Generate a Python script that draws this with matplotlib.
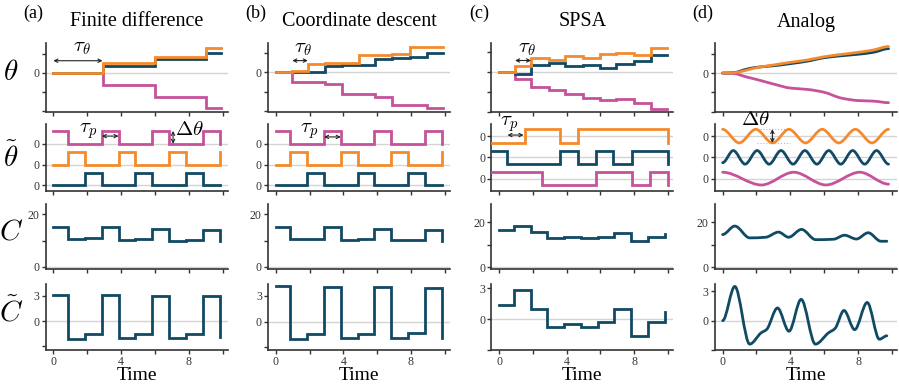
import numpy as np
import matplotlib
matplotlib.use("Agg")
import matplotlib.pyplot as plt
from matplotlib.path import Path
from matplotlib.patches import PathPatch

plt.rcParams['font.family'] = ['Liberation Serif', 'DejaVu Serif']
plt.rcParams['mathtext.fontset'] = 'cm'

ORANGE = '#f48a2c'
NAVY = '#104a64'
PINK = '#c5529b'
GRID = '#d4d4d4'
INK = '#333333'
LW = 2.0

# ---------------- data ----------------
titles = ['Finite difference', 'Coordinate descent', 'SPSA', 'Analog']
panels = ['(a)', '(b)', '(c)', '(d)']

# shared step times of the discrete schemes
step_t = [0, 0.87, 1.87, 2.86, 3.85, 4.84, 5.83, 6.83, 7.82, 8.81, 9.82]

# (a) finite difference
fd_theta_t = [0, 2.93, 6.0, 9.0, 9.88]
fd_theta_orange = [0, 0.5, 0.84, 1.28, 1.28]
fd_theta_navy = [0, 0.35, 0.7, 1.05, 1.05]
fd_theta_pink = [0, -0.65, -1.3, -1.88, -1.88]
fd_pert_pink = [0.62, 0, 0, 0.62, 0, 0, 0.62, 0, 0, 0.62, 0]
fd_pert_orange = [0, 0.62, 0, 0, 0.62, 0, 0, 0.62, 0, 0, 0.62]
fd_pert_navy = [0, 0, 0.62, 0, 0, 0.62, 0, 0, 0.62, 0, 0]
fd_cost = [15.2, 10.8, 11.1, 15.0, 10.4, 10.8, 14.6, 10.0, 10.4, 14.2, 9.8]
fd_grad = [3.1, -2.1, -1.6, 3.1, -2.0, -1.55, 3.0, -2.0, -1.5, 2.95, -1.9]

# (b) coordinate descent
cd_theta_t = [0, 0.98, 1.9, 2.9, 3.9, 4.95, 5.9, 6.9, 7.95, 8.95, 9.88]
cd_theta_orange = [0, 0.08, 0.42, 0.45, 0.45, 0.87, 0.87, 0.92, 1.28, 1.28, 1.28]
cd_theta_navy = [0, 0, 0, 0.33, 0.36, 0.36, 0.67, 0.7, 0.75, 1.0, 1.0]
cd_theta_pink = [0, -0.52, -0.52, -0.6, -1.13, -1.13, -1.25, -1.68, -1.68, -1.8, -1.8]
cd_pert_pink = fd_pert_pink
cd_pert_orange = fd_pert_orange
cd_pert_navy = fd_pert_navy
cd_cost = [15.2, 10.5, 10.8, 15.0, 10.4, 10.8, 14.6, 10.2, 10.4, 14.2, 9.8]
cd_grad = [4.08, -2.0, -1.47, 4.0, -1.95, -1.4, 3.95, -1.9, -1.35, 3.85, -1.9]

# (c) SPSA
spsa_theta_t = [0, 0.97, 1.88, 2.95, 3.88, 4.97, 6.0, 6.95, 8.0, 8.97, 9.95]
spsa_theta_orange = [0, 0.32, 0.73, 0.61, 0.79, 0.69, 0.89, 0.94, 0.87, 1.19, 1.19]
spsa_theta_navy = [0, -0.11, 0.35, 0.47, 0.31, 0.35, 0.22, 0.38, 0.56, 0.86, 0.86]
spsa_theta_pink = [0, -0.35, -0.78, -0.93, -1.14, -1.3, -1.43, -1.38, -1.57, -1.86, -1.86]
spsa_pert_t = [-0.4, 0.45, 1.52, 2.55, 3.6, 4.67, 5.72, 6.72, 7.88, 8.93, 10.0]
spsa_pert_orange = [-0.32, -0.32, 0.32, 0.32, -0.32, 0.32, 0.32, 0.32, 0.32, 0.32, -0.32]
spsa_pert_navy = [0.32, -0.32, -0.32, -0.32, 0.32, -0.32, 0.32, -0.32, 0.32, 0.32, -0.32]
spsa_pert_pink = [0.32, 0.32, 0.32, -0.32, -0.32, -0.32, 0.32, 0.32, -0.32, 0.32, -0.32]
spsa_cost = [16.6, 18.4, 15.6, 13.2, 13.7, 13.2, 13.7, 15.1, 11.8, 13.4, 14.7]
spsa_grad = [1.36, 2.8, 0.95, -0.79, -0.46, -0.79, -0.27, 0.95, -1.63, -0.27, 0.68]

# (d) analog
an_theta_t = [0, 0.7, 1.4, 2.0, 3.0, 4.0, 5.0, 6.0, 7.0, 8.0, 8.9, 9.8]
an_theta_orange = [0, 0.02, 0.15, 0.28, 0.42, 0.56, 0.68, 0.85, 0.97, 1.08, 1.2, 1.38]
an_theta_navy = [0, 0.03, 0.2, 0.3, 0.38, 0.49, 0.62, 0.8, 0.9, 0.98, 1.08, 1.27]
an_theta_pink = [0, -0.03, -0.2, -0.33, -0.57, -0.78, -0.85, -1.0, -1.3, -1.43, -1.46, -1.54]
an_orange_t = [0, 0.98, 1.96, 2.95, 3.92, 4.9, 5.88, 6.86, 7.84, 8.82, 9.8]
an_orange = [0.32, -0.32, 0.32, -0.32, 0.32, -0.32, 0.32, -0.32, 0.32, -0.32, 0.32]
an_navy_t = [0, 0.63, 1.33, 2.04, 2.75, 3.45, 4.16, 4.86, 5.57, 6.27, 6.98, 7.68, 8.39, 9.09, 9.8]
an_navy = [-0.25, 0.32, -0.32, 0.32, -0.32, 0.32, -0.32, 0.32, -0.32, 0.32, -0.32, 0.32, -0.32, 0.32, -0.32]
an_pink_t = [0, 2.3, 4.2, 6.1, 8.1, 9.8]
an_pink = [0.3, -0.3, 0.3, -0.3, 0.3, -0.26]
an_cost_t = [0, 0.72, 1.6, 2.55, 3.3, 3.9, 4.66, 5.5, 6.55, 7.2, 7.9, 8.6, 9.35, 9.7]
an_cost = [14.6, 18.4, 13.1, 13.4, 15.7, 13.4, 16.9, 12.3, 12.5, 14.3, 12.6, 15.4, 11.6, 11.6]
an_grad_t = [0, 0.72, 1.6, 2.27, 2.6, 3.24, 3.92, 4.64, 5.48, 6.25, 6.64, 7.17, 7.8, 8.54, 9.26, 9.7]
an_grad = [0, 3.5, -2.4, -1.25, -0.9, 1.3, -1.08, 2.18, -2.4, -1.25, -0.8, 1.04, -0.92, 1.86, -1.9, -1.55]


def smooth(ax, t, y, color, off=0.0):
    # monotone cubic through the read points, drawn as bezier path
    t = np.asarray(t, float)
    y = np.asarray(y, float) + off
    h = np.diff(t)
    d = np.diff(y) / h
    m = np.zeros_like(y)
    for i in range(1, len(y) - 1):
        if d[i - 1] * d[i] > 0:
            m[i] = 2.0 / (1.0 / d[i - 1] + 1.0 / d[i])
    verts = [(t[0], y[0])]
    codes = [Path.MOVETO]
    for i in range(len(h)):
        verts += [(t[i] + h[i] / 3, y[i] + m[i] * h[i] / 3),
                  (t[i + 1] - h[i] / 3, y[i + 1] - m[i + 1] * h[i] / 3),
                  (t[i + 1], y[i + 1])]
        codes += [Path.CURVE4] * 3
    ax.add_patch(PathPatch(Path(verts, codes), fill=False, edgecolor=color,
                           lw=LW, capstyle='round', joinstyle='round', zorder=3))


def step(ax, t, y, color, off=0.0):
    ax.plot(t, np.asarray(y) + off, drawstyle='steps-post', color=color, lw=LW,
            solid_joinstyle='miter', zorder=3)


def arrow(ax, p0, p1):
    ax.annotate('', xy=p1, xytext=p0,
                arrowprops=dict(arrowstyle='<->', lw=0.8, color='#222222',
                                shrinkA=0, shrinkB=0, mutation_scale=6),
                annotation_clip=False)


# ---------------- layout ----------------
W, H = 899, 384
fig = plt.figure(figsize=(W / 100, H / 100), dpi=100)

col_x = [(45.7, 228.0), (268.1, 449.8), (491.4, 673.1), (715.0, 897.0)]
row_y = [(43.3, 111.5), (124.0, 190.5), (203.5, 268.5), (283.5, 350.0)]
xlim = (-0.45, 10.3)

row1_ylim = [(-2.05, 1.55), (-1.97, 1.47), (-1.97, 1.45), (-1.7, 1.55)]
row2_ylim = [(-0.24, 2.95), (-0.24, 2.95), (-0.56, 2.57), (-0.56, 2.57)]
row3_ylim = [(-0.6, 24.1), (-0.6, 24.1), (-0.6, 28.5), (-0.6, 28.5)]
row4_ylim = [(-3.48, 4.5), (-3.3, 4.4), (-1.95, 3.46), (-2.71, 3.8)]


def make_ax(c, r):
    l, rr = col_x[c]
    t, b = row_y[r]
    ax = fig.add_axes([l / W, 1 - b / H, (rr - l) / W, (b - t) / H])
    ax.set_xlim(*xlim)
    for s in ['top', 'right']:
        ax.spines[s].set_visible(False)
    for s in ['left', 'bottom']:
        ax.spines[s].set_color(INK)
        ax.spines[s].set_linewidth(1.2)
    ax.tick_params(direction='out', length=3, width=1, color=INK,
                   labelsize=8.5, labelcolor=INK, pad=1.5)
    ax.set_xticks([0, 2, 4, 6, 8, 10])
    if r == 3:
        ax.set_xticklabels(['0', '', '4', '', '8', ''])
        ax.set_xlabel('Time', fontsize=14, labelpad=-1, color='black')
    else:
        ax.set_xticklabels([])
    ax.patch.set_alpha(0)
    return ax


theta_sets = [
    (fd_theta_t, fd_theta_orange, fd_theta_navy, fd_theta_pink),
    (cd_theta_t, cd_theta_orange, cd_theta_navy, cd_theta_pink),
    (spsa_theta_t, spsa_theta_orange, spsa_theta_navy, spsa_theta_pink),
]
pert_sets = [
    (step_t, [(fd_pert_pink, PINK, 2), (fd_pert_orange, ORANGE, 1), (fd_pert_navy, NAVY, 0)]),
    (step_t, [(cd_pert_pink, PINK, 2), (cd_pert_orange, ORANGE, 1), (cd_pert_navy, NAVY, 0)]),
    (spsa_pert_t, [(spsa_pert_orange, ORANGE, 2), (spsa_pert_navy, NAVY, 1), (spsa_pert_pink, PINK, 0)]),
]
cost_sets = [fd_cost, cd_cost, spsa_cost]
grad_sets = [fd_grad, cd_grad, spsa_grad]

for c in range(4):
    # row 1: parameters
    ax = make_ax(c, 0)
    ax.axhline(0, color=GRID, lw=1, zorder=1)
    if c < 3:
        tt, o, n, p = theta_sets[c]
        step(ax, tt, p, PINK)
        step(ax, tt, n, NAVY)
        step(ax, tt, o, ORANGE)
    else:
        smooth(ax, an_theta_t, an_theta_pink, PINK)
        smooth(ax, an_theta_t, an_theta_navy, NAVY)
        smooth(ax, an_theta_t, an_theta_orange, ORANGE)
    ax.set_ylim(*row1_ylim[c])
    ax.set_yticks([-2, -1, 0, 1])
    ax.set_yticklabels(['', '', '' if c == 2 else '0', ''])

    # row 2: perturbations
    ax = make_ax(c, 1)
    for off in [0, 1, 2]:
        ax.axhline(off, color=GRID, lw=1, zorder=1)
    if c < 3:
        tt, lines = pert_sets[c]
        for vals, col, off in lines:
            step(ax, tt, vals, col, off)
    else:
        smooth(ax, an_orange_t, an_orange, ORANGE, 2)
        smooth(ax, an_navy_t, an_navy, NAVY, 1)
        smooth(ax, an_pink_t, an_pink, PINK, 0)
    ax.set_ylim(*row2_ylim[c])
    ax.set_yticks([0, 1, 2])
    ax.set_yticklabels(['0', '0', '0'])

    # row 3: cost
    ax = make_ax(c, 2)
    ax.axhline(0, color=GRID, lw=1, zorder=1)
    if c < 3:
        step(ax, step_t, cost_sets[c], NAVY)
    else:
        smooth(ax, an_cost_t, an_cost, NAVY)
    ax.set_ylim(*row3_ylim[c])
    ax.set_yticks([0, 10, 20])
    ax.set_yticklabels(['0', '', '20'])

    # row 4: gradient estimate
    ax = make_ax(c, 3)
    ax.axhline(0, color=GRID, lw=1, zorder=1)
    if c < 3:
        step(ax, step_t, grad_sets[c], NAVY)
    else:
        smooth(ax, an_grad_t, an_grad, NAVY)
    ax.set_ylim(*row4_ylim[c])
    ax.set_yticks([-3, 0, 3])
    ax.set_yticklabels(['', '0', '3'])

    # titles and panel letters
    cx = (col_x[c][0] + col_x[c][1]) / 2
    fig.text(cx / W, 1 - 22 / H, titles[c], ha='center', va='center', fontsize=14.5)
    fig.text((col_x[c][0] - 12) / W, 1 - 13 / H, panels[c], ha='center', va='center', fontsize=13)

# row labels
for lab, yc in [(r'$\theta$', 73), (r'$\tilde{\theta}$', 158), (r'$C$', 233), (r'$\tilde{C}$', 312)]:
    fig.text(11 / W, 1 - yc / H, lab, ha='center', va='center', fontsize=21)

# annotations
axs = fig.axes
ax_a1, ax_a2 = axs[0], axs[1]
ax_b1, ax_b2 = axs[4], axs[5]
ax_c1, ax_c2 = axs[8], axs[9]
ax_d2 = axs[13]

arrow(ax_a1, (0, 0.63), (2.9, 0.63))
ax_a1.text(1.66, 1.33, r'$\tau_\theta$', ha='center', va='center', fontsize=15)
arrow(ax_a2, (2.86, 2.37), (3.85, 2.37))
ax_a2.text(2.05, 2.62, r'$\tau_p$', ha='center', va='center', fontsize=15)
arrow(ax_a2, (7.06, 2.0), (7.06, 2.62))
ax_a2.text(8.0, 2.62, r'$\Delta\theta$', ha='center', va='center', fontsize=15)

arrow(ax_b1, (0.98, 0.59), (1.9, 0.59))
ax_b1.text(1.6, 1.2, r'$\tau_\theta$', ha='center', va='center', fontsize=15)
arrow(ax_b2, (2.86, 2.33), (3.85, 2.33))
ax_b2.text(2.0, 2.62, r'$\tau_p$', ha='center', va='center', fontsize=15)

arrow(ax_c1, (0.95, 0.58), (1.9, 0.58))
ax_c1.text(1.64, 1.19, r'$\tau_\theta$', ha='center', va='center', fontsize=15)
arrow(ax_c2, (0.5, 2.05), (1.45, 2.05))
ax_c2.text(0.62, 2.57, r'$\tau_p$', ha='center', va='center', fontsize=15)

ax_d2.plot([2.04, 3.96], [2.32, 2.32], ls=':', color='#bbbbbb', lw=0.8, zorder=2)
ax_d2.plot([2.04, 3.96], [1.68, 1.68], ls=':', color='#bbbbbb', lw=0.8, zorder=2)
arrow(ax_d2, (2.94, 1.68), (2.94, 2.33))
ax_d2.text(1.94, 2.74, r'$\Delta\theta$', ha='center', va='center', fontsize=15)

fig.savefig('out.png', dpi=100)
